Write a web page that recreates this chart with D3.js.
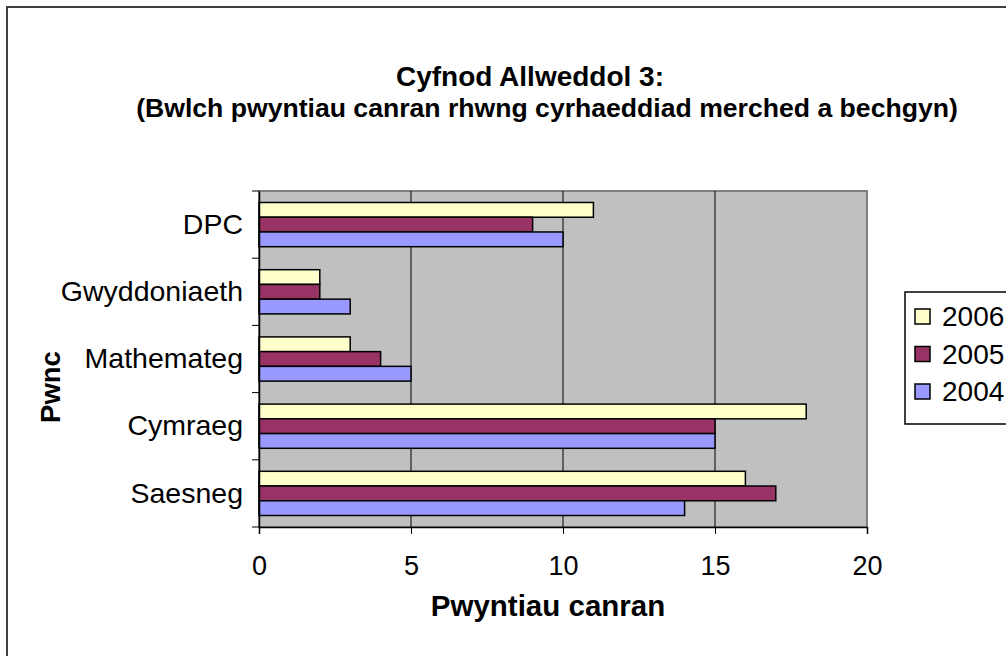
<html>
<head>
<meta charset="utf-8">
<script src="https://d3js.org/d3.v7.min.js"></script>
<style>
  body { margin: 0; background: white; }
  text { font-family: "Liberation Sans", Arial, sans-serif; }
</style>
</head>
<body>
<div id="chart"></div>
<script>
// data
var subjects = ["DPC", "Gwyddoniaeth", "Mathemateg", "Cymraeg", "Saesneg"];
var years = ["2006", "2005", "2004"];
var values2006 = [11, 2, 3, 18, 16];
var values2005 = [9, 2, 4, 15, 17];
var values2004 = [10, 3, 5, 15, 14];
var xTicks = [0, 5, 10, 15, 20];
var colors = {"2006": "#FFFFCC", "2005": "#993366", "2004": "#9999FF"};

var series = {"2006": values2006, "2005": values2005, "2004": values2004};

var W = 1006, H = 656;
var plot = {left: 259, top: 191, right: 867, bottom: 527};

var svg = d3.select("#chart").append("svg")
    .attr("width", W).attr("height", H);

// outer frame
svg.append("rect")
    .attr("x", 7).attr("y", 7).attr("width", 1010).attr("height", 660)
    .attr("fill", "white").attr("stroke", "#404040").attr("stroke-width", 2);

var x = d3.scaleLinear().domain([0, 20]).range([plot.left, plot.right]);
var y = d3.scaleBand().domain(subjects).range([plot.top, plot.bottom]);
var yInner = d3.scaleBand().domain(years)
    .range([0, y.bandwidth()]).paddingOuter(0.78);

// plot background
svg.append("rect")
    .attr("x", plot.left).attr("y", plot.top)
    .attr("width", plot.right - plot.left).attr("height", plot.bottom - plot.top)
    .attr("fill", "#C0C0C0").attr("stroke", "#808080").attr("stroke-width", 2);

// gridlines
svg.append("g").selectAll("line")
    .data(xTicks.slice(1, -1))
    .enter().append("line")
    .attr("x1", function(d) { return x(d); }).attr("x2", function(d) { return x(d); })
    .attr("y1", plot.top).attr("y2", plot.bottom)
    .attr("stroke", "black").attr("stroke-width", 1);

// bars
years.forEach(function(yr) {
  svg.append("g").selectAll("rect")
    .data(subjects)
    .enter().append("rect")
    .attr("x", x(0))
    .attr("y", function(d) { return y(d) + yInner(yr); })
    .attr("width", function(d, i) { return x(series[yr][i]) - x(0); })
    .attr("height", yInner.bandwidth())
    .attr("fill", colors[yr])
    .attr("stroke", "black").attr("stroke-width", 1.5);
});

// x axis
var xAxis = svg.append("g")
    .attr("transform", "translate(0," + plot.bottom + ")")
    .call(d3.axisBottom(x).tickValues(xTicks).tickSize(7).tickPadding(22));
xAxis.select(".domain").attr("stroke", "black").attr("stroke-width", 1.5);
xAxis.selectAll("text").style("font-size", "27px").attr("fill", "black")
    .style("font-family", "'Liberation Sans', Arial, sans-serif");

// y axis
var yAxis = svg.append("g")
    .attr("transform", "translate(" + plot.left + ",0)")
    .call(d3.axisLeft(y).tickSize(0).tickPadding(16));
yAxis.select(".domain").attr("stroke", "black").attr("stroke-width", 1.5);
yAxis.selectAll("text").style("font-size", "28.5px").attr("fill", "black")
    .style("font-family", "'Liberation Sans', Arial, sans-serif");
// ticks between categories
svg.append("g").selectAll("line")
    .data(subjects)
    .enter().append("line")
    .attr("x1", plot.left - 7).attr("x2", plot.left)
    .attr("y1", function(d) { return y(d); }).attr("y2", function(d) { return y(d); })
    .attr("stroke", "black");
svg.append("line")
    .attr("x1", plot.left - 7).attr("x2", plot.left)
    .attr("y1", plot.bottom).attr("y2", plot.bottom)
    .attr("stroke", "black");

// titles
svg.append("text")
    .attr("x", 530).attr("y", 86)
    .attr("text-anchor", "middle")
    .style("font-size", "28px").style("font-weight", "bold")
    .text("Cyfnod Allweddol 3:");
svg.append("text")
    .attr("x", 547).attr("y", 117)
    .attr("text-anchor", "middle")
    .style("font-size", "26.6px").style("font-weight", "bold")
    .text("(Bwlch pwyntiau canran rhwng cyrhaeddiad merched a bechgyn)");

svg.append("text")
    .attr("x", 548).attr("y", 616)
    .attr("text-anchor", "middle")
    .style("font-size", "29.5px").style("font-weight", "bold")
    .text("Pwyntiau canran");

svg.append("text")
    .attr("transform", "translate(60," + ((plot.top + plot.bottom) / 2 + 28) + ") rotate(-90)")
    .attr("text-anchor", "middle")
    .style("font-size", "27.5px").style("font-weight", "bold")
    .text("Pwnc");

// legend
var legend = svg.append("g").attr("transform", "translate(905,292)");
legend.append("rect")
    .attr("width", 120).attr("height", 132)
    .attr("fill", "white").attr("stroke", "black").attr("stroke-width", 1.5);
var item = legend.selectAll("g.item")
    .data(years)
    .enter().append("g")
    .attr("class", "item")
    .attr("transform", function(d, i) { return "translate(10," + (17 + i * 37.5) + ")"; });
item.append("rect")
    .attr("width", 15).attr("height", 15)
    .attr("fill", function(d) { return colors[d]; })
    .attr("stroke", "black").attr("stroke-width", 1.5);
item.append("text")
    .attr("x", 27).attr("y", 17)
    .style("font-size", "28px")
    .text(function(d) { return d; });
</script>
</body>
</html>
